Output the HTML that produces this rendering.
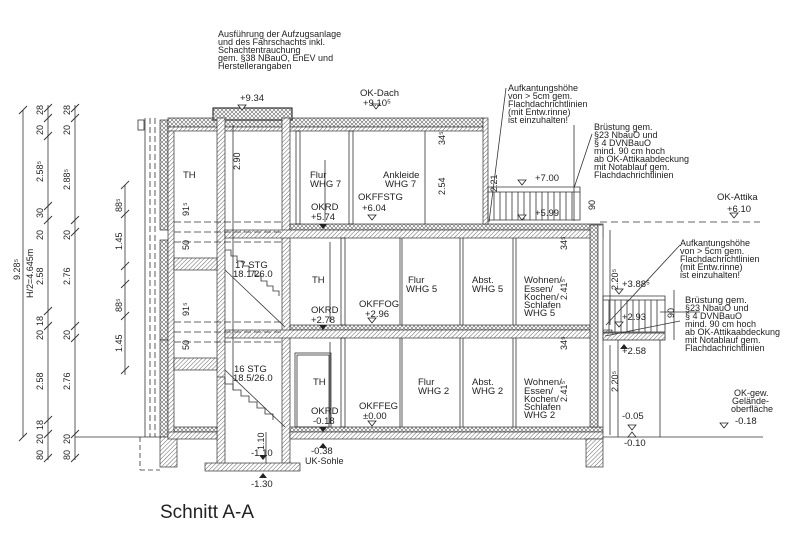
<!DOCTYPE html>
<html><head><meta charset="utf-8"><style>
html,body{margin:0;padding:0;background:#fff;width:800px;height:560px;overflow:hidden}
svg{display:block}
text{font-family:"Liberation Sans",sans-serif;fill:#222}
.s{font-size:9px}
.m{font-size:9.5px}
</style></head><body>
<svg width="800" height="560" viewBox="0 0 800 560" xmlns="http://www.w3.org/2000/svg">
<defs>
<pattern id="h" width="3" height="3" patternUnits="userSpaceOnUse" patternTransform="rotate(45)">
<rect width="3" height="3" fill="#fff"/><line x1="0" y1="0" x2="0" y2="3" stroke="#555" stroke-width="0.9"/></pattern>
<pattern id="x" width="4" height="4" patternUnits="userSpaceOnUse">
<rect width="4" height="4" fill="#fff"/><path d="M0 0L4 4M4 0L0 4" stroke="#666" stroke-width="0.6"/></pattern>
</defs>
<g stroke="#333" stroke-width="0.8" fill="none">
<line x1="23" y1="110" x2="23" y2="437"/>
<line x1="48" y1="105" x2="48" y2="460"/>
<line x1="75" y1="105" x2="75" y2="460"/>
<line x1="125" y1="185" x2="125" y2="375"/>
<line x1="75" y1="437" x2="160" y2="437"/>
<g stroke-width="0.9">
<path d="M19 114l8 -8M19 441l8 -8"/>
<path d="M44 112l8-8M44 122l8-8M44 140l8-8M44 210l8-8M44 224l8-8M44 315l8-8M44 330l8-8M44 424l8-8M44 438l8-8M44 462l8-8"/>
<path d="M71 112l8-8M71 122l8-8M71 224l8-8M71 236l8-8M71 330l8-8M71 342l8-8M71 438l8-8M71 462l8-8"/>
<path d="M121 189l8-8M121 218l8-8M121 270l8-8M121 288l8-8M121 320l8-8M121 374l8-8"/>
</g>
<rect x="138" y="120" width="6" height="10" />
<line x1="145" y1="118" x2="145" y2="437"/>
<line x1="150" y1="118" x2="150" y2="437" stroke-dasharray="6 3"/>
<line x1="155" y1="118" x2="155" y2="437" stroke-dasharray="6 3"/>
<line x1="140" y1="437" x2="140" y2="470" stroke-dasharray="5 3"/>
<line x1="140" y1="470" x2="160" y2="470" stroke-dasharray="5 3"/>
</g>
<rect x="160" y="120" width="8" height="110" fill="url(#x)" stroke="#333" stroke-width="0.7"/>
<rect x="160" y="240" width="8" height="100" fill="url(#x)" stroke="#333" stroke-width="0.7"/>
<rect x="160" y="340" width="8" height="97" fill="url(#x)" stroke="#333" stroke-width="0.7"/>
<rect x="168" y="120" width="6" height="317" fill="url(#h)" stroke="#333" stroke-width="0.7"/>
<rect x="160" y="437" width="17" height="30" fill="url(#h)" stroke="#333" stroke-width="0.7"/>
<rect x="168" y="118" width="315" height="9" fill="url(#x)" stroke="#333" stroke-width="0.7"/>
<rect x="168" y="127" width="318" height="4" fill="url(#h)" stroke="#333" stroke-width="0.7"/>
<rect x="213" y="108" width="79" height="12" fill="url(#x)" stroke="#333" stroke-width="1.2"/>
<rect x="217" y="118" width="8" height="349" fill="url(#h)" stroke="#333" stroke-width="0.7"/>
<rect x="282" y="118" width="8" height="349" fill="url(#h)" stroke="#333" stroke-width="0.7"/>
<rect x="205" y="463" width="95" height="8" fill="url(#h)" stroke="#333" stroke-width="0.7"/>
<rect x="174" y="258" width="43" height="12" fill="url(#h)" stroke="#333" stroke-width="0.7"/>
<rect x="174" y="358" width="43" height="12" fill="url(#h)" stroke="#333" stroke-width="0.7"/>
<rect x="290" y="224" width="313" height="6" fill="url(#x)" stroke="#333" stroke-width="0.7"/>
<rect x="225" y="230" width="378" height="8" fill="url(#h)" stroke="#333" stroke-width="0.7"/>
<rect x="290" y="325" width="313" height="5" fill="url(#x)" stroke="#333" stroke-width="0.7"/>
<rect x="225" y="330" width="387" height="8" fill="url(#h)" stroke="#333" stroke-width="0.7"/>
<rect x="174" y="427" width="43" height="5" fill="url(#x)" stroke="#333" stroke-width="0.7"/>
<rect x="290" y="427" width="313" height="5" fill="url(#x)" stroke="#333" stroke-width="0.7"/>
<rect x="168" y="432" width="49" height="7" fill="url(#h)" stroke="#333" stroke-width="0.7"/>
<rect x="290" y="432" width="313" height="7" fill="url(#h)" stroke="#333" stroke-width="0.7"/>
<rect x="586" y="439" width="17" height="28" fill="url(#h)" stroke="#333" stroke-width="0.7"/>
<rect x="483" y="118" width="5" height="106" fill="url(#h)" stroke="#333" stroke-width="0.7"/>
<rect x="590" y="225" width="8" height="202" fill="url(#x)" stroke="#333" stroke-width="0.7"/>
<rect x="598" y="225" width="5" height="202" fill="#fff" stroke="#333" stroke-width="0.7"/>
<g stroke="#333" stroke-width="0.8" fill="none">
<rect x="296" y="131" width="4" height="93"/>
<rect x="349" y="131" width="4" height="93"/>
<line x1="425" y1="131" x2="425" y2="224"/>
<rect x="341" y="238" width="4" height="87"/>
<line x1="400" y1="238" x2="400" y2="325"/><line x1="402" y1="238" x2="402" y2="325"/>
<line x1="460" y1="238" x2="460" y2="325"/><line x1="463" y1="238" x2="463" y2="325"/>
<line x1="513" y1="238" x2="513" y2="325"/><line x1="516" y1="238" x2="516" y2="325"/>
<rect x="341" y="338" width="4" height="89"/>
<line x1="400" y1="338" x2="400" y2="427"/><line x1="402" y1="338" x2="402" y2="427"/>
<line x1="460" y1="338" x2="460" y2="427"/><line x1="463" y1="338" x2="463" y2="427"/>
<line x1="513" y1="338" x2="513" y2="427"/><line x1="516" y1="338" x2="516" y2="427"/>
<rect x="295" y="353" width="36" height="74"/>
<rect x="297" y="355" width="32" height="72"/>
<path d="M225 270 L285 327" /><path d="M225 370 L285 427"/>
<path d="M225 250 h6 v6 h6 v5 h6 v5 h6 v5 h6 v5 h6 v5 h6 v5 h6 v5 h6 v5"/>
<path d="M217 377 h8 v7 h8 v6 h8 v6 h8 v6 h8 v6 h8 v6 h8 v6"/>
<path d="M174 222h108M174 232h108M174 242h108M174 322h108M174 332h108M174 342h108" stroke-dasharray="7 3"/>
<path d="M488 187h92v33h-92z"/>
<path d="M488 192h92"/>
<path d="M494 192v28M500 192v28M506 192v28M512 192v28M518 192v28M524 192v28M530 192v28M536 192v28M542 192v28M548 192v28M554 192v28M560 192v28M566 192v28M572 192v28"/>
<path d="M600 222h160" stroke-dasharray="7 4"/>
<path d="M603 296h62v36h-62z"/><path d="M603 300h62"/>
<path d="M609 300v32M615 300v32M621 300v32M627 300v32M633 300v32M639 300v32M645 300v32M651 300v32M657 300v32"/>
<rect x="603" y="333" width="62" height="7" fill="url(#h)"/>
<path d="M618 340v97M660 340v97"/>
<path d="M603 437h160"/>
<path d="M233 125v265M325 160v62M574 125v96M330 242v80M330 342v82M610 230v95M610 345v90M674 290v50"/>
<path d="M506 88L489 222"/><path d="M592 134L574 188"/><path d="M606 325l74 -80"/><path d="M605 336l75 -15"/>
<path d="M660 312h40"/>
<line x1="266" y1="432" x2="266" y2="463"/>
</g>
<g fill="#fff" stroke="#222" stroke-width="0.8">
<path d="M238 105l4 5l4-5z"/><path d="M372 104l4 5l4-5z"/><path d="M368 215l4 5l4-5z"/>
<path d="M518 180l4 5l4-5z"/><path d="M518 215l4 5l4-5z"/><path d="M730 213l4 5l4-5z"/>
<path d="M615 289l4 5l4-5z"/><path d="M615 322l4 5l4-5z"/><path d="M368 318l4 5l4-5z"/>
<path d="M368 421l4 5l4-5z"/><path d="M628 425l4 5l4-5z"/><path d="M628 437l4 -5l4 5z"/>
<path d="M720 423l4 5l4-5z"/>
</g>
<g fill="#222">
<path d="M319 224l4 5l4-5z"/><path d="M319 325l4 5l4-5z"/><path d="M319 427l4 5l4-5z"/>
<path d="M319 448l4-5l4 5z"/><path d="M259 455l4 5l4-5z"/><path d="M259 478l4-5l4 5z"/>
<path d="M620 349l4-5l4 5z"/>
</g>
<text class="s" x="218" y="37">Ausführung der Aufzugsanlage</text>
<text class="s" x="218" y="45">und des Fahrschachts inkl.</text>
<text class="s" x="218" y="53">Schachtentrauchung</text>
<text class="s" x="218" y="61">gem. §38 NBauO, EnEV und</text>
<text class="s" x="218" y="69">Herstellerangaben</text>
<text class="m" x="240" y="101">+9.34</text>
<text class="m" x="360" y="96">OK-Dach</text>
<text class="m" x="363" y="106">+9.10⁵</text>
<text class="s" x="508" y="91">Aufkantungshöhe</text>
<text class="s" x="508" y="99">von &gt; 5cm gem.</text>
<text class="s" x="508" y="107">Flachdachrichtlinien</text>
<text class="s" x="508" y="115">(mit Entw.rinne)</text>
<text class="s" x="508" y="123">ist einzuhalten!</text>
<text class="s" x="594" y="130">Brüstung gem.</text>
<text class="s" x="594" y="138">§23 NbauO und</text>
<text class="s" x="594" y="146">§ 4 DVNBauO</text>
<text class="s" x="594" y="154">mind. 90 cm hoch</text>
<text class="s" x="594" y="162">ab OK-Attikaabdeckung</text>
<text class="s" x="594" y="170">mit Notablauf gem.</text>
<text class="s" x="594" y="178">Flachdachrichtlinien</text>
<text class="m" x="535" y="181">+7.00</text>
<text class="m" x="535" y="216">+5.99</text>
<text class="m" x="717" y="200">OK-Attika</text>
<text class="m" x="727" y="212">+6.10</text>
<text class="s" x="680" y="246">Aufkantungshöhe</text>
<text class="s" x="680" y="254">von &gt; 5cm gem.</text>
<text class="s" x="680" y="262">Flachdachrichtlinien</text>
<text class="s" x="680" y="270">(mit Entw.rinne)</text>
<text class="s" x="680" y="278">ist einzuhalten!</text>
<text class="m" x="685" y="303">Brüstung gem.</text>
<text class="s" x="685" y="311">§23 NbauO und</text>
<text class="s" x="685" y="319">§ 4 DVNBauO</text>
<text class="s" x="685" y="327">mind. 90 cm hoch</text>
<text class="s" x="685" y="335">ab OK-Attikaabdeckung</text>
<text class="s" x="685" y="343">mit Notablauf gem.</text>
<text class="s" x="685" y="351">Flachdachrichtlinien</text>
<text class="m" x="622" y="287">+3.88⁵</text>
<text class="m" x="622" y="320">+2.93</text>
<text class="m" x="622" y="354">+2.58</text>
<text class="m" x="622" y="419">-0.05</text>
<text class="m" x="624" y="446">-0.10</text>
<text class="s" x="734" y="396">OK-gew.</text>
<text class="s" x="732" y="404">Gelände-</text>
<text class="s" x="731" y="412">oberfläche</text>
<text class="m" x="735" y="424">-0.18</text>
<text class="m" x="183" y="178">TH</text>
<text class="m" x="310" y="178">Flur</text>
<text class="m" x="310" y="187">WHG 7</text>
<text class="m" x="383" y="178">Ankleide</text>
<text class="m" x="385" y="187">WHG 7</text>
<text class="m" x="311" y="210">OKRD</text>
<text class="m" x="311" y="220">+5.74</text>
<text class="m" x="358" y="200">OKFFSTG</text>
<text class="m" x="362" y="211">+6.04</text>
<text class="m" x="235" y="268">17 STG</text>
<text class="m" x="233" y="277">18.1/26.0</text>
<text class="m" x="312" y="283">TH</text>
<text class="m" x="408" y="283">Flur</text>
<text class="m" x="406" y="292">WHG 5</text>
<text class="m" x="472" y="283">Abst.</text>
<text class="m" x="472" y="292">WHG 5</text>
<text class="m" x="524" y="283">Wohnen/</text>
<text class="m" x="524" y="292">Essen/</text>
<text class="m" x="524" y="300">Kochen/</text>
<text class="m" x="524" y="308">Schlafen</text>
<text class="m" x="524" y="316">WHG 5</text>
<text class="m" x="311" y="313">OKRD</text>
<text class="m" x="311" y="323">+2.78</text>
<text class="m" x="359" y="307">OKFFOG</text>
<text class="m" x="365" y="317">+2.96</text>
<text class="m" x="234" y="372">16 STG</text>
<text class="m" x="233" y="381">18.5/26.0</text>
<text class="m" x="313" y="385">TH</text>
<text class="m" x="418" y="385">Flur</text>
<text class="m" x="418" y="394">WHG 2</text>
<text class="m" x="472" y="385">Abst.</text>
<text class="m" x="472" y="394">WHG 2</text>
<text class="m" x="524" y="385">Wohnen/</text>
<text class="m" x="524" y="394">Essen/</text>
<text class="m" x="524" y="402">Kochen/</text>
<text class="m" x="524" y="410">Schlafen</text>
<text class="m" x="524" y="418">WHG 2</text>
<text class="m" x="311" y="414">OKRD</text>
<text class="m" x="313" y="424">-0.18</text>
<text class="m" x="359" y="409">OKFFEG</text>
<text class="m" x="363" y="419">±0.00</text>
<text class="m" x="311" y="454">-0.38</text>
<text class="s" x="305" y="464">UK-Sohle</text>
<text class="m" x="251" y="456">-1.10</text>
<text class="m" x="251" y="487">-1.30</text>
<text x="160" y="518" style="font-size:19px">Schnitt A-A</text>
<g class="s">
<text transform="translate(20,280) rotate(-90)">9.28⁵</text>
<text transform="translate(33,298) rotate(-90)">H/2=4.645m</text>
<text transform="translate(43,115) rotate(-90)">28</text>
<text transform="translate(43,135) rotate(-90)">20</text>
<text transform="translate(43,182) rotate(-90)">2.58⁵</text>
<text transform="translate(43,218) rotate(-90)">30</text>
<text transform="translate(43,240) rotate(-90)">20</text>
<text transform="translate(43,285) rotate(-90)">2.58</text>
<text transform="translate(43,326) rotate(-90)">18</text>
<text transform="translate(43,340) rotate(-90)">20</text>
<text transform="translate(43,390) rotate(-90)">2.58</text>
<text transform="translate(43,430) rotate(-90)">18</text>
<text transform="translate(43,444) rotate(-90)">20</text>
<text transform="translate(43,460) rotate(-90)">80</text>
<text transform="translate(70,115) rotate(-90)">28</text>
<text transform="translate(70,135) rotate(-90)">20</text>
<text transform="translate(70,190) rotate(-90)">2.88⁵</text>
<text transform="translate(70,240) rotate(-90)">20</text>
<text transform="translate(70,285) rotate(-90)">2.76</text>
<text transform="translate(70,340) rotate(-90)">20</text>
<text transform="translate(70,390) rotate(-90)">2.76</text>
<text transform="translate(70,444) rotate(-90)">20</text>
<text transform="translate(70,460) rotate(-90)">80</text>
<text transform="translate(122,212) rotate(-90)">88⁵</text>
<text transform="translate(122,250) rotate(-90)">1.45</text>
<text transform="translate(122,312) rotate(-90)">88⁵</text>
<text transform="translate(122,352) rotate(-90)">1.45</text>
<text transform="translate(240,170) rotate(-90)">2.90</text>
<text transform="translate(189,216) rotate(-90)">91⁵</text>
<text transform="translate(189,250) rotate(-90)">50</text>
<text transform="translate(189,316) rotate(-90)">91⁵</text>
<text transform="translate(189,350) rotate(-90)">50</text>
<text transform="translate(264,450) rotate(-90)">1.10</text>
<text transform="translate(445,145) rotate(-90)">34⁵</text>
<text transform="translate(445,195) rotate(-90)">2.54</text>
<text transform="translate(497,192) rotate(-90)">2.21</text>
<text transform="translate(595,210) rotate(-90)">90</text>
<text transform="translate(567,250) rotate(-90)">34⁵</text>
<text transform="translate(567,300) rotate(-90)">2.41⁵</text>
<text transform="translate(567,350) rotate(-90)">34⁵</text>
<text transform="translate(567,402) rotate(-90)">2.41⁵</text>
<text transform="translate(618,290) rotate(-90)">2.20⁵</text>
<text transform="translate(618,392) rotate(-90)">2.20⁵</text>
<text transform="translate(674,318) rotate(-90)">90</text>
</g>
</svg>
</body></html>
